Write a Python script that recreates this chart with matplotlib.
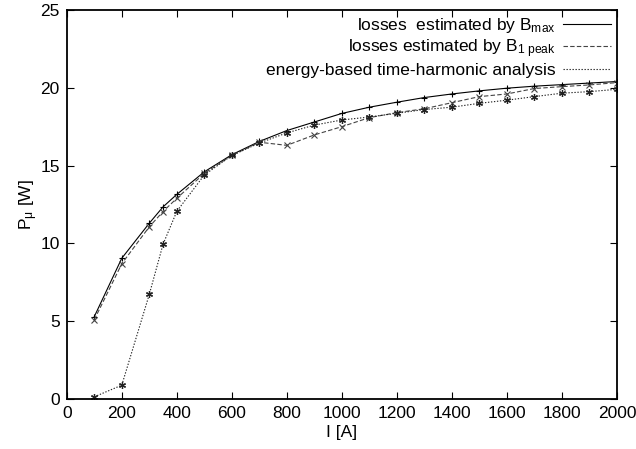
import matplotlib
matplotlib.use('Agg')
from matplotlib import pyplot as plt
from matplotlib.lines import Line2D

plt.rcParams['font.family'] = ['Liberation Sans', 'DejaVu Sans']
plt.rcParams['mathtext.fontset'] = 'custom'
plt.rcParams['mathtext.rm'] = 'Liberation Sans'
plt.rcParams['mathtext.it'] = 'Liberation Sans'

corrente = [100, 200, 300, 350, 400, 500, 600, 700, 800, 900, 1000,
            1100, 1200, 1300, 1400, 1500, 1600, 1700, 1800, 1900, 2000]

perdas_bmax = [5.3, 9.05, 11.3, 12.35, 13.15, 14.6, 15.7, 16.55, 17.25, 17.8, 18.35,
               18.75, 19.07, 19.37, 19.6, 19.8, 19.97, 20.1, 20.2, 20.3, 20.4]
perdas_b1peak = [5.1, 8.7, 11.07, 12.05, 12.9, 14.5, 15.65, 16.5, 16.3, 16.97, 17.5,
                 18.08, 18.4, 18.65, 19.04, 19.43, 19.6, 19.95, 20.07, 20.18, 20.33]
perdas_energia = [0.15, 0.9, 6.73, 9.95, 12.06, 14.4, 15.65, 16.45, 17.1, 17.6, 17.93,
                  18.12, 18.36, 18.6, 18.75, 19.0, 19.2, 19.43, 19.65, 19.75, 19.9]

rotulos = ['losses  estimated by B$_{max}$',
           'losses estimated by B$_{1\\ peak}$',
           'energy-based time-harmonic analysis']

fs = 12.5

fig = plt.figure(figsize=(6.36, 4.49), dpi=100)
ax = fig.add_axes([0.105, 0.111, 0.865, 0.867])

ax.plot(corrente, perdas_bmax, color='black', lw=0.8, ls='-',
        marker='+', ms=5, mew=0.8)
ax.plot(corrente, perdas_b1peak, color='#444444', lw=0.8, ls=(0, (4, 2)),
        marker='x', ms=4.5, mew=0.8)
ax.plot(corrente, perdas_energia, color='#222222', lw=0.8, ls=(0, (1.2, 1.5)),
        marker=(6, 2, 0), ms=5, mew=0.9)

ax.set_xlim(0, 2000)
ax.set_ylim(0, 25)
ax.set_xticks(range(0, 2001, 200))
ax.set_yticks(range(0, 26, 5))
ax.tick_params(direction='in', top=True, right=True, length=5, width=0.8,
               labelsize=fs, pad=5)
for s in ax.spines.values():
    s.set_linewidth(1.3)

ax.set_xlabel('I [A]', fontsize=fs, labelpad=3)
ax.set_ylabel('P$_{\\mu}$ [W]', fontsize=fs, labelpad=0)

handles = [Line2D([], [], color='black', lw=0.8, ls='-'),
           Line2D([], [], color='#444444', lw=0.8, ls=(0, (4, 2))),
           Line2D([], [], color='#222222', lw=0.8, ls=(0, (1.2, 1.5)))]
leg = ax.legend(handles, rotulos, loc='upper right', frameon=False,
                markerfirst=False, fontsize=fs, handlelength=2.8,
                handletextpad=0.4, labelspacing=0.15,
                bbox_to_anchor=(1.018, 1.025))
for t in leg.get_texts():
    t.set_ha('right')

fig.savefig('out.png', dpi=100)
